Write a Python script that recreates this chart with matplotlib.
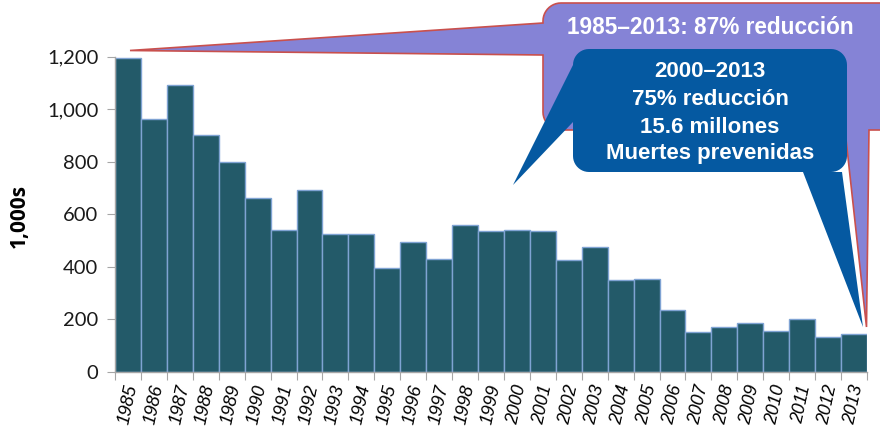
import numpy as np
import matplotlib
matplotlib.use("Agg")
import matplotlib.pyplot as plt
from matplotlib.path import Path
from matplotlib.patches import PathPatch

years = [str(y) for y in range(1985, 2014)]
deaths = [1195, 962, 1092, 902, 799, 663, 542, 692, 525, 527, 396, 495, 429,
          559, 537, 542, 537, 425, 476, 349, 353, 235, 151, 170, 188, 155,
          200, 133, 144]
yticks = [0, 200, 400, 600, 800, 1000, 1200]
ytick_labels = ["0", "200", "400", "600", "800", "1,000", "1,200"]
ylabel = "1,000s"
callout1_text = "1985\u20132013: 87% reducción"
callout2_lines = ["2000\u20132013", "75% reducción", "15.6 millones", "Muertes prevenidas"]

W, H = 880, 428
fig = plt.figure(figsize=(W / 100, H / 100), dpi=100)
fig.patch.set_facecolor("white")

def fx(px):
    return px / W

def fy(py):
    return 1 - py / H

ax = fig.add_axes([fx(115), fy(372), fx(867) - fx(115), fy(56.7) - fy(372)])
x = np.arange(len(years))
ax.bar(x, deaths, width=1.0, color="#235A69", edgecolor="#7FA3D3", linewidth=1.0, zorder=2)
ax.set_xlim(-0.5, len(years) - 0.5)
ax.set_ylim(0, 1200)
for s in ["top", "right"]:
    ax.spines[s].set_visible(False)
for s in ["left", "bottom"]:
    ax.spines[s].set_color("#A6A6A6")
    ax.spines[s].set_linewidth(1.0)
ax.set_yticks(yticks)
ax.set_yticklabels(ytick_labels, fontsize=14.5, family=["Lato", "DejaVu Sans"], color="#1a1a1a")
ax.tick_params(axis="y", length=6, color="#A6A6A6", pad=6)
ax.set_xticks(np.arange(len(years) + 1) - 0.5)
ax.set_xticklabels([])
ax.tick_params(axis="x", which="major", length=6, color="#A6A6A6")
ax.set_xticks(x, minor=True)
ax.set_xticklabels(years, minor=True, rotation=78, ha="center", va="top",
                   fontsize=13, style="italic", family=["Liberation Sans", "DejaVu Sans"])
ax.tick_params(axis="x", which="minor", length=0, pad=8)
ax.set_ylabel(ylabel, fontsize=15, fontweight="bold", family=["Open Sans", "DejaVu Sans"])
ax.yaxis.set_label_coords(-(115 - 30) / (867 - 115), 0.495)

# overlay in pixel coordinates for callouts
ov = fig.add_axes([0, 0, 1, 1])
ov.set_xlim(0, W)
ov.set_ylim(H, 0)
ov.axis("off")
ov.patch.set_alpha(0)


def callout_path(x0, y0, x1, y1, r, left=None, bottom=None):
    pts = []
    def arc(cx, cy, a0, a1):
        for a in np.linspace(np.radians(a0), np.radians(a1), 12):
            pts.append((cx + r * np.cos(a), cy + r * np.sin(a)))
    pts.append((x0 + r, y0))
    pts.append((x1 - r, y0))
    arc(x1 - r, y0 + r, -90, 0)
    pts.append((x1, y1 - r))
    arc(x1 - r, y1 - r, 0, 90)
    if bottom:
        xa, xb, tx, ty = bottom
        pts += [(xb, y1), (tx, ty), (xa, y1)]
    pts.append((x0 + r, y1))
    arc(x0 + r, y1 - r, 90, 180)
    if left:
        ya, yb, tx, ty = left
        pts += [(x0, yb), (tx, ty), (x0, ya)]
    pts.append((x0, y0 + r))
    arc(x0 + r, y0 + r, 180, 270)
    pts.append(pts[0])
    codes = [Path.MOVETO] + [Path.LINETO] * (len(pts) - 2) + [Path.CLOSEPOLY]
    return Path(pts, codes)

p1 = callout_path(543, 3, 898, 130, 18, left=(23, 55, 130, 50.5), bottom=(845, 869, 866.5, 327))
ov.add_patch(PathPatch(p1, facecolor="#8583D6", edgecolor="#C9504D", linewidth=1.2, zorder=3))
ov.text(710, 27, callout1_text, ha="center", va="center", color="white", fontsize=16.3,
        fontweight="bold", family=["Liberation Sans", "DejaVu Sans"], zorder=5)

p2 = callout_path(573, 49, 847, 172, 16, left=(65, 122, 513, 185), bottom=(803, 842, 863, 327))
ov.add_patch(PathPatch(p2, facecolor="#0559A1", edgecolor="none", linewidth=0, zorder=4))
for yy, line in zip([71, 99, 127, 154], callout2_lines):
    ov.text(710, yy, line, ha="center", va="center", color="white", fontsize=16,
            fontweight="bold", family=["Liberation Sans", "DejaVu Sans"], zorder=5)

fig.savefig("out.png", dpi=100, facecolor="white")
